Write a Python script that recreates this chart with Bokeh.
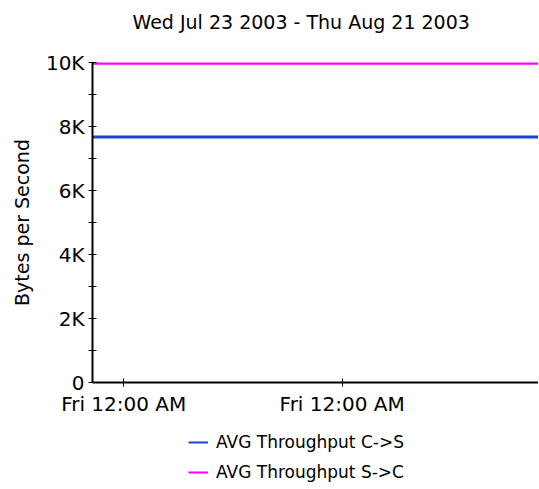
from datetime import datetime
from bokeh.plotting import figure
from bokeh.layouts import column
from bokeh.models import Range1d, FixedTicker, DatetimeTickFormatter, Legend, LegendItem
from bokeh.embed import file_html
from bokeh.resources import INLINE

# ---- data ----
title_text = "Wed Jul 23 2003 - Thu Aug 21 2003"
y_label = "Bytes per Second"
series_names = ["AVG Throughput C->S", "AVG Throughput S->C"]
series_colors = ["#1a40d0", "#ff00ff"]
period = [datetime(2003, 7, 23, 0, 0), datetime(2003, 8, 20, 14, 0)]
avg_c_to_s = [7670, 7670]
avg_s_to_c = [9980, 9980]
x_ticks = [datetime(2003, 7, 25), datetime(2003, 8, 8)]
y_major = [0, 2000, 4000, 6000, 8000, 10000]
y_minor = [1000, 3000, 5000, 7000, 9000]
y_labels = ["0", "2K", "4K", "6K", "8K", "10K"]

FONT = "DejaVu Sans"
x_range = Range1d(period[0], period[1])

p = figure(frame_width=446, frame_height=320, x_axis_type="datetime",
           x_range=x_range, y_range=Range1d(0, 10000),
           output_backend="svg", toolbar_location=None,
           min_border_left=92, min_border_right=0, min_border_top=62, min_border_bottom=45)
p.outline_line_color = None
p.xgrid.visible = False
p.ygrid.visible = False
p.background_fill_color = "white"
p.border_fill_color = "white"

# trailing line break lifts the one-line title higher above the frame
p.title.text = title_text + "\n"
p.title.align = "left"
p.title.offset = 40
p.title.text_font = FONT
p.title.text_font_size = "19px"
p.title.text_font_style = "normal"
p.title.text_color = "black"
p.title.standoff = 16

p.line(period, avg_c_to_s, line_color=series_colors[0], line_width=3)
p.line(period, avg_s_to_c, line_color=series_colors[1], line_width=3)

ms = [(t - datetime(1970, 1, 1)).total_seconds() * 1000 for t in x_ticks]
xa = p.xaxis[0]
xa.ticker = FixedTicker(ticks=ms)
fmt = "%a %I:%M %p"
xa.formatter = DatetimeTickFormatter(microseconds=fmt, milliseconds=fmt, seconds=fmt,
                                     minsec=fmt, minutes=fmt, hourmin=fmt, hours=fmt,
                                     days=fmt, months=fmt, years=fmt)
ya = p.yaxis[0]
ya.ticker = FixedTicker(ticks=y_major, minor_ticks=y_minor)
ya.major_label_overrides = {v: l for v, l in zip(y_major, y_labels)}
ya.axis_label = y_label

for ax in (xa, ya):
    ax.axis_line_color = "black"
    ax.axis_line_width = 2
    ax.major_tick_line_color = "black"
    ax.minor_tick_line_color = "black"
    ax.major_tick_in = 4
    ax.major_tick_out = 4
    ax.minor_tick_in = 4
    ax.minor_tick_out = 4
    ax.major_label_text_font = FONT
    ax.major_label_text_font_size = "20px"
    ax.major_label_text_color = "black"
    ax.axis_label_text_font = FONT
    ax.axis_label_text_font_size = "19px"
    ax.axis_label_text_font_style = "normal"
    ax.axis_label_text_color = "black"
xa.minor_tick_line_color = None
xa.major_label_standoff = 5
ya.major_label_standoff = 4
ya.axis_label_standoff = 10

# ---- legend strip under the chart ----
lg = figure(width=538, height=61, x_range=x_range, y_range=Range1d(0, 1),
            x_axis_location=None, y_axis_location=None,
            output_backend="svg", toolbar_location=None, min_border=0)
lg.outline_line_color = None
lg.grid.visible = False
lg.background_fill_color = "white"
lg.border_fill_color = "white"
lg.title.text = ""
lg.title.standoff = 0
l1 = lg.line(period, avg_c_to_s, line_color=series_colors[0], line_width=2)
l2 = lg.line(period, avg_s_to_c, line_color=series_colors[1], line_width=2)

legend = Legend(items=[LegendItem(label=series_names[0], renderers=[l1]),
                       LegendItem(label=series_names[1], renderers=[l2])],
                location=(96, 1), orientation="vertical",
                label_text_font=FONT, label_text_font_size="17px", label_text_color="black",
                glyph_width=20, glyph_height=30, label_height=30, label_standoff=8,
                spacing=0, padding=0, margin=0,
                border_line_color=None, background_fill_alpha=0)
lg.add_layout(legend, "center")

layout = column(p, lg, spacing=0)
open("out.html", "w").write(file_html(layout, INLINE))
